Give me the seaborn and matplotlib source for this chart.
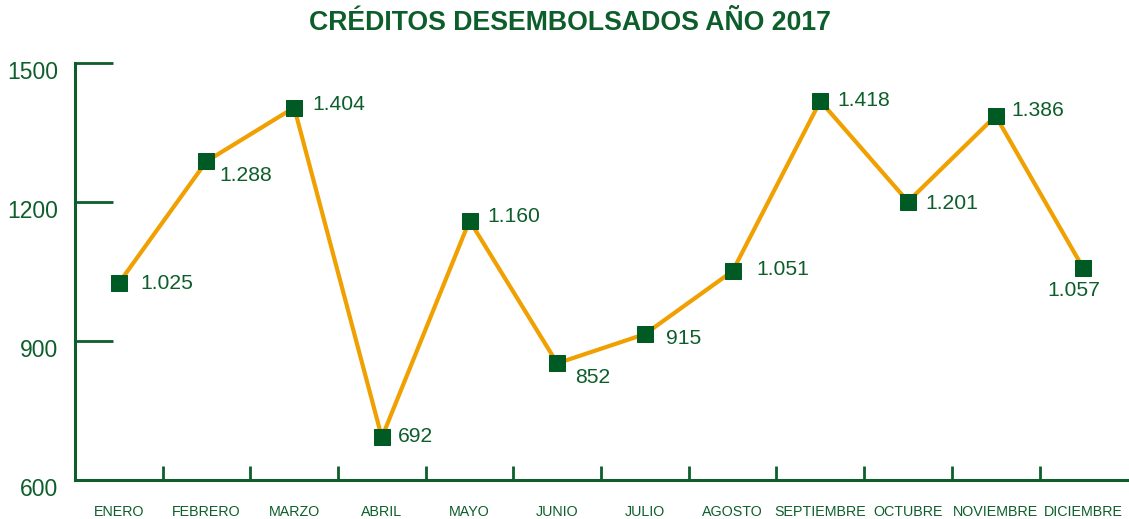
import matplotlib
matplotlib.use("Agg")
import matplotlib.pyplot as plt
import matplotlib.transforms as mtrans
import pandas as pd
import seaborn as sns

# ─── Data ─────────────────────────────────────────────────────────────────────
meses = ["ENERO", "FEBRERO", "MARZO", "ABRIL", "MAYO", "JUNIO", "JULIO",
         "AGOSTO", "SEPTIEMBRE", "OCTUBRE", "NOVIEMBRE", "DICIEMBRE"]
creditos = [1025, 1288, 1404, 692, 1160, 852, 915, 1051, 1418, 1201, 1386, 1057]
y_ticks = [600, 900, 1200, 1500]

# label offsets in pixels (dx, dy, ha)
label_pos = [(22, 0, "left"), (13, -14, "left"), (18, 3, "left"), (16, 1, "left"),
             (18, 4, "left"), (18, -14, "left"), (21, -4, "left"), (24, 2, "left"),
             (17, 1, "left"), (17, -2, "left"), (16, 5, "left"), (-9, -22, "center")]

GREEN = "#0d5e2b"
MARKER = "#005a24"
ORANGE = "#f0a000"

sns.set_style("white")
plt.rcParams["font.family"] = ["Liberation Sans", "DejaVu Sans"]

df = pd.DataFrame({"mes": meses, "valor": creditos})
df["x"] = range(len(df))

fig = plt.figure(figsize=(11.29, 5.19), dpi=100)
ax = fig.add_axes([0.0664, 0.075, 0.932, 0.8035])

sns.lineplot(data=df, x="x", y="valor", ax=ax, color=ORANGE, linewidth=3,
             marker="s", markersize=11, markerfacecolor=MARKER,
             markeredgecolor=MARKER, zorder=3)

for i, v in enumerate(creditos):
    dx, dy, ha = label_pos[i]
    txt = f"{v:,}".replace(",", ".")
    ax.annotate(txt, (i, v), xytext=(dx * 0.72, dy * 0.72), textcoords="offset points",
                ha=ha, va="center", fontsize=15.2, color=GREEN)

ax.set_xlim(-0.5, len(meses) - 0.5)
ax.set_ylim(600, 1500)
ax.set_yticks(y_ticks)
ax.set_xticks(range(len(meses)))
ax.set_xticklabels(meses)
ax.set_xticks([i + 0.5 for i in range(len(meses) - 1)], minor=True)

ax.tick_params(axis="y", left=True, direction="in", length=27, width=2, color=GREEN,
               labelcolor=GREEN, labelsize=16.5, pad=12)
ax.tick_params(axis="x", which="major", bottom=True, length=0, labelcolor=GREEN,
               labelsize=10.3, pad=18)
ax.tick_params(axis="x", which="minor", bottom=True, direction="in", length=10,
               width=2, color=GREEN)

# y labels sit a little below their ticks in the original
shift = mtrans.ScaledTranslation(0, -7 / 100, fig.dpi_scale_trans)
for lbl in ax.get_yticklabels():
    lbl.set_transform(lbl.get_transform() + shift)

for s in ["top", "right"]:
    ax.spines[s].set_visible(False)
for s in ["left", "bottom"]:
    ax.spines[s].set_color(GREEN)
    ax.spines[s].set_linewidth(2.2)

ax.set_xlabel("")
ax.set_ylabel("")
ax.grid(False)

fig.text(0.505, 0.955, "CRÉDITOS DESEMBOLSADOS AÑO 2017", ha="center", va="center",
         fontsize=19.2, fontweight="bold", color=GREEN)

fig.savefig("out.png", dpi=100)
